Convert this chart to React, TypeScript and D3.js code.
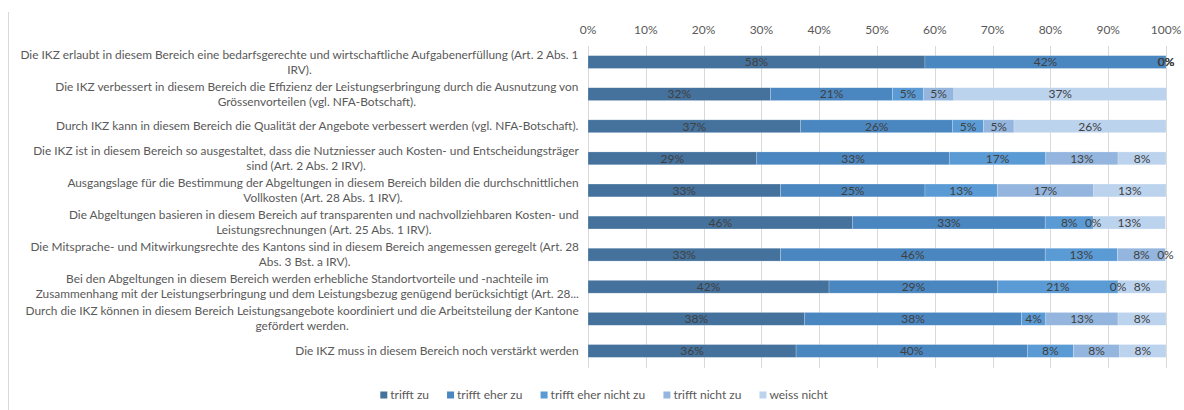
import React, { useMemo } from "react";
import * as d3 from "d3";

const categories: string[][] = [
  ["Die IKZ erlaubt in diesem Bereich eine bedarfsgerechte und wirtschaftliche Aufgabenerfüllung (Art. 2 Abs. 1", "IRV)."],
  ["Die IKZ verbessert in diesem Bereich die Effizienz der Leistungserbringung durch die Ausnutzung von", "Grössenvorteilen (vgl. NFA-Botschaft)."],
  ["Durch IKZ kann in diesem Bereich die Qualität der Angebote verbessert werden (vgl. NFA-Botschaft)."],
  ["Die IKZ ist in diesem Bereich so ausgestaltet, dass die Nutzniesser auch Kosten- und Entscheidungsträger", "sind (Art. 2 Abs. 2 IRV)."],
  ["Ausgangslage für die Bestimmung der Abgeltungen in diesem Bereich bilden die durchschnittlichen", "Vollkosten (Art. 28 Abs. 1 IRV)."],
  ["Die Abgeltungen basieren in diesem Bereich auf transparenten und nachvollziehbaren Kosten- und", "Leistungsrechnungen (Art. 25 Abs. 1 IRV)."],
  ["Die Mitsprache- und Mitwirkungsrechte des Kantons sind in diesem Bereich angemessen geregelt (Art. 28", "Abs. 3 Bst. a IRV)."],
  ["Bei den Abgeltungen in diesem Bereich werden erhebliche Standortvorteile und -nachteile im", "Zusammenhang mit der Leistungserbringung und dem Leistungsbezug genügend berücksichtigt (Art. 28..."],
  ["Durch die IKZ können in diesem Bereich Leistungsangebote koordiniert und die Arbeitsteilung der Kantone", "gefördert werden."],
  ["Die IKZ muss in diesem Bereich noch verstärkt werden"],
];

const seriesNames = ["trifft zu", "trifft eher zu", "trifft eher nicht zu", "trifft nicht zu", "weiss nicht"];

const trifftZu = [58.3, 31.6, 36.8, 29.2, 33.3, 45.8, 33.3, 41.7, 37.5, 36];
const trifftEherZu = [41.7, 21.1, 26.3, 33.3, 25.0, 33.3, 45.8, 29.2, 37.5, 40];
const trifftEherNichtZu = [0, 5.3, 5.3, 16.7, 12.5, 8.3, 12.5, 20.8, 4.2, 8];
const trifftNichtZu = [0, 5.3, 5.3, 12.5, 16.7, 0, 8.3, 0, 12.5, 8];
const weissNicht = [0, 36.8, 26.3, 8.3, 12.5, 12.5, 0, 8.3, 8.3, 8];

const xTicks = [0, 10, 20, 30, 40, 50, 60, 70, 80, 90, 100];

const palette = ["#44729D", "#4A87C0", "#5B9BD5", "#94B6DE", "#BCD3EE"];

const W = 1184;
const H = 410;
const FONT = "Lato, 'Open Sans', sans-serif";

function measure(text: string, size: number): number {
  const c = document.createElement("canvas");
  const ctx = c.getContext("2d");
  if (!ctx) return text.length * size * 0.5;
  ctx.font = `${size}px Lato`;
  return ctx.measureText(text).width;
}

export default function App() {
  const series = [trifftZu, trifftEherZu, trifftEherNichtZu, trifftNichtZu, weissNicht];
  const keys = categories.map((_, i) => String(i));

  const x = d3.scaleLinear().domain([0, 100]).range([588, 1166]);
  const y = d3.scaleBand<string>().domain(keys).range([46, 367]).padding(0);
  const barH = y.bandwidth() * 0.4;

  const catSize = useMemo(() => {
    const w = measure(categories[0][0], 12);
    return (12 * 560) / w;
  }, []);
  const labelRight = 579;
  const lineH = 15;

  const legendSize = 12;
  const legendItems = useMemo(() => {
    const sq = 7, gap = 3, between = 18;
    const widths = seriesNames.map((s) => measure(s, legendSize));
    const total = widths.reduce((a, b) => a + b + sq + gap, 0) + between * (seriesNames.length - 1);
    let cx = 604 - total / 2;
    return seriesNames.map((s, i) => {
      const item = { name: s, x: cx, color: palette[i] };
      cx += sq + gap + widths[i] + between;
      return item;
    });
  }, []);

  const stacked = categories.map((_, ci) => {
    let acc = 0;
    return series.map((s, si) => {
      const v = s[ci];
      const seg = { x0: acc, x1: acc + v, v, si };
      acc += v;
      return seg;
    });
  });

  return (
    <svg width={W} height={H} style={{ position: "absolute", left: 0, top: 0, background: "#fff" }} fontFamily={FONT}>
      <line x1={8.5} x2={8.5} y1={12} y2={H} stroke="#d9d9d9" />
      {xTicks.map((t) => (
        <g key={t}>
          <line x1={Math.round(x(t)) + 0.5} x2={Math.round(x(t)) + 0.5} y1={46} y2={368} stroke="#d9d9d9" />
          <text x={x(t)} y={34} textAnchor="middle" fontSize={12} fill="#595959">{`${t}%`}</text>
        </g>
      ))}
      {stacked.map((row, ci) => {
        const cy = (y(keys[ci]) as number) + y.bandwidth() / 2;
        return (
          <g key={ci}>
            {row.map((seg) => (
              <rect key={seg.si} x={x(seg.x0)} y={cy - barH / 2} width={Math.max(0, x(seg.x1) - x(seg.x0))} height={barH}
                fill={palette[seg.si]} stroke="#ffffff" strokeOpacity={0.35} strokeWidth={0.6} />
            ))}
            {row.map((seg) => (
              <text key={"t" + seg.si} x={(x(seg.x0) + x(seg.x1)) / 2} y={cy + 4.3} textAnchor="middle" fontSize={12} fill="#404040">
                {`${Math.round(seg.v)}%`}
              </text>
            ))}
          </g>
        );
      })}
      {categories.map((lines, ci) => {
        const cy = (y(keys[ci]) as number) + y.bandwidth() / 2;
        const bw = Math.max(...lines.map((l) => measure(l, catSize)));
        const cx = labelRight - bw / 2;
        const top = cy - ((lines.length - 1) * lineH) / 2;
        return (
          <g key={"c" + ci}>
            {lines.map((l, li) => (
              <text key={li} x={cx} y={top + li * lineH + 4} textAnchor="middle" fontSize={catSize} fill="#595959">{l}</text>
            ))}
          </g>
        );
      })}
      {legendItems.map((it) => (
        <g key={it.name}>
          <rect x={it.x} y={391.5} width={7} height={7} fill={it.color} />
          <text x={it.x + 10} y={399} fontSize={legendSize} fill="#595959">{it.name}</text>
        </g>
      ))}
    </svg>
  );
}
